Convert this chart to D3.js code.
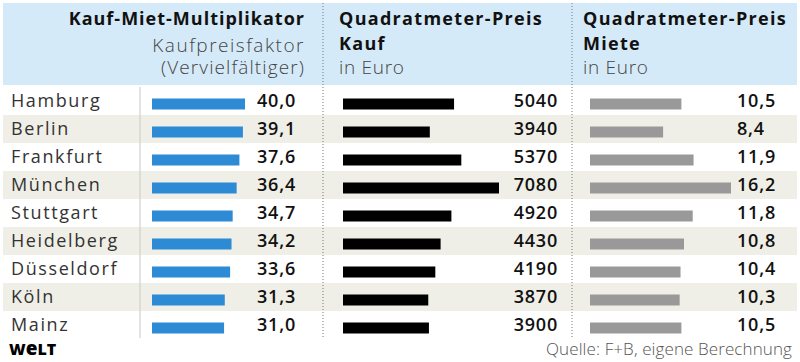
<!DOCTYPE html>
<html>
<head>
<meta charset="utf-8">
<script src="https://cdn.jsdelivr.net/npm/d3@7"></script>
<style>
  body { margin: 0; background: #fff; }
  svg { display: block; font-family: "Open Sans", Lato, sans-serif; }
</style>
</head>
<body>
<svg id="chart" width="800" height="362"></svg>
<script>
// data
const cities = ["Hamburg", "Berlin", "Frankfurt", "München", "Stuttgart", "Heidelberg", "Düsseldorf", "Köln", "Mainz"];
const multiplikator = [40.0, 39.1, 37.6, 36.4, 34.7, 34.2, 33.6, 31.3, 31.0];
const kaufpreis = [5040, 3940, 5370, 7080, 4920, 4430, 4190, 3870, 3900];
const miete = [10.5, 8.4, 11.9, 16.2, 11.8, 10.8, 10.4, 10.3, 10.5];

const fmt = v => v.toFixed(1).replace(".", ",");

const svg = d3.select("#chart");

// header band
svg.append("rect").attr("x", 3).attr("y", 3).attr("width", 794).attr("height", 82).attr("fill", "#d5eaf8");

const y = d3.scaleBand().domain(cities).range([87, 339]);

// zebra rows
svg.selectAll(".row")
  .data(cities.filter((d, i) => i % 2 == 1))
  .enter().append("rect")
  .attr("x", 3).attr("width", 794)
  .attr("y", d => y(d)).attr("height", y.bandwidth())
  .attr("fill", "#efefe7");

// separators
svg.append("line").attr("x1", 140).attr("x2", 140).attr("y1", 87).attr("y2", 338)
  .attr("stroke", "#c8c8c8").attr("stroke-width", 1);
[323, 572].forEach(x => {
  svg.append("line").attr("x1", x).attr("x2", x).attr("y1", 3).attr("y2", 338)
    .attr("stroke", "#777").attr("stroke-width", 1).attr("stroke-dasharray", "1,2");
});

// header texts: [text, baseline, size, weight, colour, letter-spacing]
function head(x, anchor, lines) {
  lines.forEach(l => {
    svg.append("text").attr("x", x).attr("y", l[1]).attr("text-anchor", anchor)
      .attr("font-size", l[2]).attr("font-weight", l[3]).attr("fill", l[4])
      .attr("letter-spacing", l[5]).text(l[0]);
  });
}
head(305, "end", [
  ["Kauf-Miet-Multiplikator", 25, 18, 700, "#111", 1.0],
  ["Kaufpreisfaktor", 52, 19, 300, "#444", 1.5],
  ["(Vervielfältiger)", 74, 19, 300, "#444", 1.1]
]);
head(339, "start", [
  ["Quadratmeter-Preis", 25, 18, 700, "#111", 1.3],
  ["Kauf", 50, 18, 700, "#111", 1.3],
  ["in Euro", 74, 19, 300, "#444", 0.7]
]);
head(583, "start", [
  ["Quadratmeter-Preis", 25, 18, 700, "#111", 1.3],
  ["Miete", 50, 18, 700, "#111", 1.3],
  ["in Euro", 74, 19, 300, "#444", 0.7]
]);

// city names
svg.selectAll(".city")
  .data(cities)
  .enter().append("text")
  .attr("x", 11).attr("y", d => y(d) + 20)
  .attr("font-size", 18).attr("fill", "#333").attr("letter-spacing", 1.6).text(d => d);

const barY = d => y(d) + 11.5;
const barH = 11;

function column(values, x0, x1, vmax, color, labelX, anchor, format) {
  const x = d3.scaleLinear().domain([0, vmax]).range([x0, x1]);
  svg.append("g").selectAll("rect")
    .data(values)
    .enter().append("rect")
    .attr("x", x(0))
    .attr("y", (d, i) => barY(cities[i]))
    .attr("width", d => x(d) - x(0))
    .attr("height", barH)
    .attr("fill", color);
  svg.append("g").selectAll("text")
    .data(values)
    .enter().append("text")
    .attr("x", labelX)
    .attr("y", (d, i) => y(cities[i]) + 20)
    .attr("text-anchor", anchor)
    .attr("font-size", 18).attr("font-weight", 600).attr("fill", "#111")
    .attr("letter-spacing", 0.8)
    .text(format);
}

column(multiplikator, 152, 245, 40, "#2d8bd5", 296, "end", fmt);
column(kaufpreis, 343, 499, 7080, "#000", 558, "end", d => d);
column(miete, 590, 731, 16.2, "#999", 737, "start", fmt);

// footer
const logo = svg.append("text").attr("x", 9).attr("y", 355)
  .attr("font-size", 16).attr("font-weight", 800).attr("fill", "#000");
logo.append("tspan").text("W");
logo.append("tspan").attr("font-size", 19).text("e");
logo.append("tspan").text("LT");
svg.append("text").attr("x", 792).attr("y", 355).attr("text-anchor", "end")
  .attr("font-size", 17).attr("font-weight", 300).attr("fill", "#555")
  .attr("letter-spacing", 0.1)
  .text("Quelle: F+B, eigene Berechnung");
</script>
</body>
</html>
